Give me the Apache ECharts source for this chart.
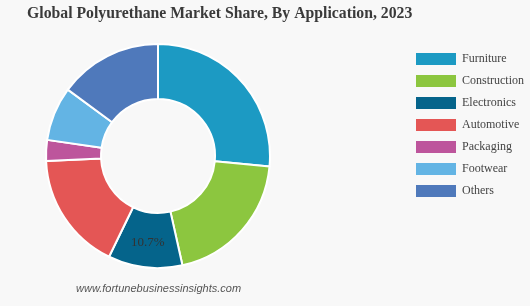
<!DOCTYPE html>
<html>
<head>
<meta charset="utf-8">
<script src="https://cdn.jsdelivr.net/npm/echarts@6/dist/echarts.min.js"></script>
<style>
html,body{margin:0;padding:0;background:#f8f8f8;}
#chart{width:530px;height:306px;}
</style>
</head>
<body>
<div id="chart"></div>
<script>
const categories = ['Furniture','Construction','Electronics','Automotive','Packaging','Footwear','Others'];
const shares = [26.5, 20.0, 10.7, 17.1, 3.0, 7.8, 14.9];
const colors = ['#1c9ac3','#8cc63f','#05648b','#e45655','#bd559c','#63b4e4','#4f79bb'];
const labelledCategory = 'Electronics';

const chart = echarts.init(document.getElementById('chart'));
chart.setOption({
  backgroundColor: '#f8f8f8',
  animation: false,
  color: colors,
  title: {
    text: 'Global Polyurethane Market Share, By Application, 2023',
    left: 27, top: 6, padding: 0,
    textStyle: {fontFamily: 'Liberation Serif', fontWeight: 'bold', fontSize: 15.75, color: '#3a3a3a'}
  },
  legend: {
    orient: 'vertical',
    left: 416, top: 53, padding: 0,
    itemWidth: 40, itemHeight: 12, itemGap: 10,
    icon: 'rect',
    data: categories,
    textStyle: {fontFamily: 'Liberation Serif', fontSize: 12, color: '#444', padding: [0,0,0,1]},
    itemStyle: {borderWidth: 0}
  },
  graphic: [{
    type: 'text', left: 76, top: 283,
    style: {text: 'www.fortunebusinessinsights.com', fontFamily: 'Liberation Sans', fontStyle: 'italic', fontSize: 11, fill: '#555'}
  }],
  series: [{
    type: 'pie',
    center: [158, 156],
    radius: [57, 112],
    startAngle: 90,
    clockwise: true,
    itemStyle: {borderColor: '#fff', borderWidth: 2},
    label: {show: false},
    labelLine: {show: false},
    emphasis: {disabled: true},
    data: categories.map((c, i) => ({
      name: c, value: shares[i],
      label: c === labelledCategory ? {show: true, position: 'inside', formatter: '{c}%', fontFamily: 'Liberation Serif', fontSize: 13, color: '#333'} : {show: false}
    }))
  }]
});
</script>
</body>
</html>
